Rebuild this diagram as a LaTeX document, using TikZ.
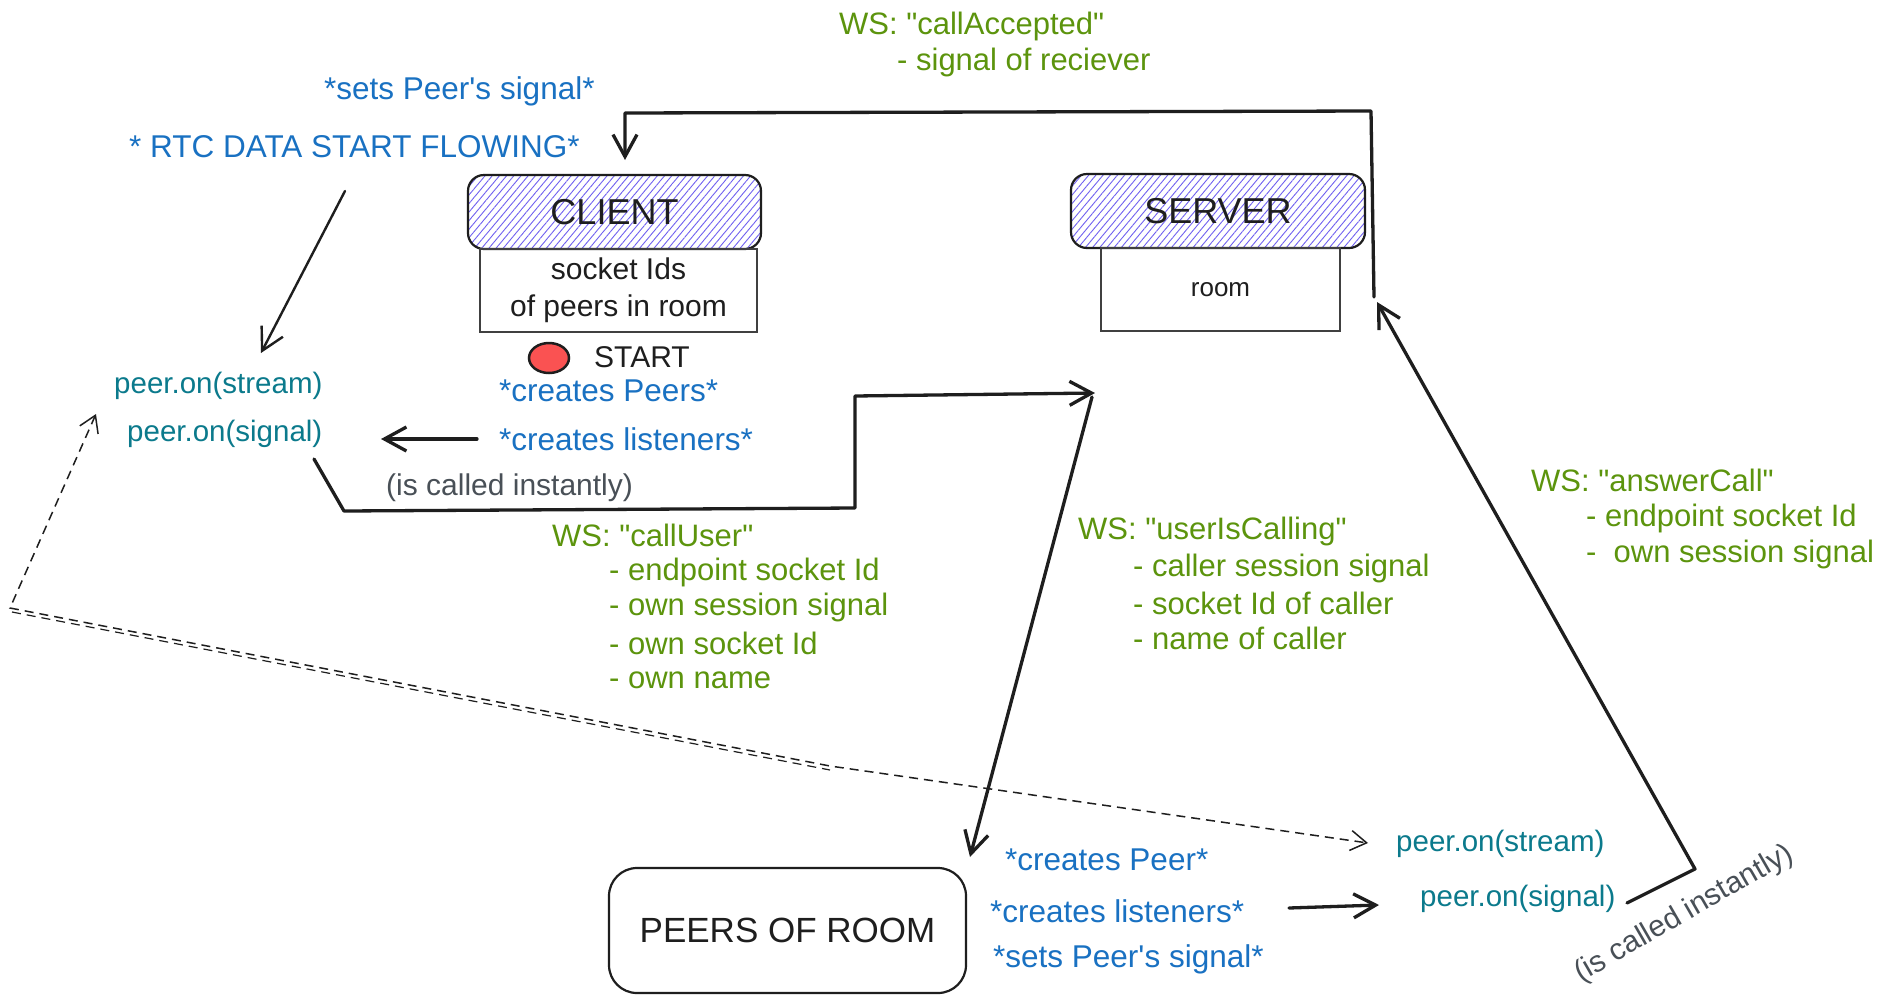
\documentclass[tikz,border=0pt]{standalone}
\usepackage{fontspec}
% plain family: no TeX quote mapping, so " and ' stay straight
\newfontfamily\handfont{Liberation Sans}
\usetikzlibrary{arrows.meta,patterns.meta,shapes.geometric}

\definecolor{blueT}{HTML}{1971C2}
\definecolor{tealT}{HTML}{0B7A8C}
\definecolor{greenT}{HTML}{5C940D}
\definecolor{grayT}{HTML}{495057}
\definecolor{hatchC}{HTML}{7061F0}
\definecolor{inkC}{HTML}{1E1E1E}
\definecolor{dotC}{HTML}{FA5252}

\tikzset{
  lbl/.style={anchor=west, inner sep=0pt},
  bluetxt/.style={lbl, text=blueT, font=\handfont\fontsize{31.5}{36}\selectfont},
  tealtxt/.style={lbl, text=tealT, font=\handfont\fontsize{29.5}{34}\selectfont},
  greentxt/.style={lbl, text=greenT, font=\handfont\fontsize{31}{36}\selectfont},
  graytxt/.style={text=grayT, font=\handfont\fontsize{30}{36}\selectfont, inner sep=0pt},
  titlebox/.style={draw=inkC, line width=2.2pt, rounded corners=16pt,
    pattern={Lines[angle=50,distance=5.5pt,line width=0.9pt]}, pattern color=hatchC,
    font=\handfont\fontsize{36}{40}\selectfont, text=inkC, inner sep=0pt},
  databox/.style={draw=inkC!85, line width=1.6pt, inner sep=0pt, text=inkC, align=center},
  flow/.style={draw=inkC, line width=3.3pt, line cap=round, line join=round, -{Straight Barb[length=22pt,width=24pt]}},
  thinflow/.style={draw=inkC, line width=2.4pt, line cap=round, -{Straight Barb[length=22pt,width=24pt]}},
  dashflow/.style={draw=inkC, line width=1.5pt, dash pattern=on 9pt off 6pt,
    {Straight Barb[length=16pt,width=20pt]}-{Straight Barb[length=16pt,width=20pt]}},
  dashtrace/.style={draw=inkC, line width=1.2pt, dash pattern=on 9pt off 6pt},
}

\begin{document}
\begin{tikzpicture}[x=1pt,y=-1pt]
  \fill[white] (0,0) rectangle (1880,1002);
  \useasboundingbox (0,0) rectangle (1880,1002);

  % ---------- client side ----------
  \node[titlebox, minimum width=293pt, minimum height=74pt] (client) at (614.5,212) {CLIENT};
  \node[databox, minimum width=277pt, minimum height=83pt, font=\handfont\fontsize{30}{37}\selectfont]
    (clientdata) at (618.5,290.5) {socket Ids\\of peers in room};

  \node[ellipse, draw=inkC, line width=2.5pt, fill=dotC, minimum width=40pt, minimum height=30pt,
    inner sep=0pt] (startdot) at (549,358) {};
  \node[lbl, text=inkC, font=\handfont\fontsize{30}{36}\selectfont] (start) at (594,357) {START};

  \node[bluetxt] (createsPeers) at (499,391) {*creates Peers*};
  \node[bluetxt] (createsLst) at (499,439) {*creates listeners*};

  \node[tealtxt] (streamA) at (114,386) {peer.on(stream)};
  \node[tealtxt] (signalA) at (127,434) {peer.on(signal)};

  \node[graytxt, anchor=west] (instantA) at (386,488) {(is called instantly)};

  \node[bluetxt] (setsSignalA) at (324,91) {*sets Peer's signal*};
  \node[bluetxt] (rtcFlow) at (129,147) {* RTC DATA START FLOWING*};

  % ---------- server side ----------
  \node[titlebox, minimum width=294pt, minimum height=74pt] (server) at (1218,211) {SERVER};
  \node[databox, minimum width=239pt, minimum height=83pt, font=\handfont\fontsize{26}{30}\selectfont]
    (serverdata) at (1220.5,289.5) {room};

  % ---------- websocket messages ----------
  \node[greentxt] (acc0) at (839,26) {WS: "callAccepted"};
  \node[greentxt] (acc1) at (897,62) {- signal of reciever};

  \node[greentxt] (cu0) at (552,535) {WS: "callUser"};
  \node[greentxt] (cu1) at (609,572) {- endpoint socket Id};
  \node[greentxt] (cu2) at (609,607) {- own session signal};
  \node[greentxt] (cu3) at (609,643) {- own socket Id};
  \node[greentxt] (cu4) at (609,680) {- own name};

  \node[greentxt] (uc0) at (1078,531) {WS: "userIsCalling"};
  \node[greentxt] (uc1) at (1133,568) {- caller session signal};
  \node[greentxt] (uc2) at (1133,603) {- socket Id of caller};
  \node[greentxt] (uc3) at (1133,638) {- name of caller};

  \node[greentxt] (ac0) at (1531,480) {WS: "answerCall"};
  \node[greentxt] (ac1) at (1586,518) {- endpoint socket Id};
  \node[greentxt] (ac2) at (1586,554) {-\ \ own session signal};

  % ---------- peers of the room ----------
  \node[draw=inkC, line width=2.2pt, rounded corners=28pt, minimum width=357pt, minimum height=125pt,
    inner sep=0pt, font=\handfont\fontsize{35}{40}\selectfont, text=inkC] (peers) at (787.5,930.5) {PEERS OF ROOM};

  \node[bluetxt] (createsPeer) at (1005,860) {*creates Peer*};
  \node[bluetxt] (createsLstB) at (990,911) {*creates listeners*};
  \node[bluetxt] (setsSignalB) at (993,959) {*sets Peer's signal*};

  \node[tealtxt] (streamB) at (1396,844) {peer.on(stream)};
  \node[tealtxt] (signalB) at (1420,899) {peer.on(signal)};

  \node[graytxt, rotate=30] (instantB) at (1684,914) {(is called instantly)};

  % ---------- connector end points and bends ----------
  \coordinate (rtcOut) at (345,191);
  \coordinate (streamAIn) at (261,353);
  \coordinate (lstOut) at (477,439);
  \coordinate (signalAIn) at (381,439);
  \coordinate (sigAOut) at (314,459);
  \coordinate (bendA1) at (344,511);
  \coordinate (bendA2) at (855,508);
  \coordinate (bendA3) at (855,396);
  \coordinate (serverIn) at (1095,393);
  \coordinate (serverOut) at (1092,397);
  \coordinate (peersIn) at (970,857);
  \coordinate (lstBOut) at (1289,908);
  \coordinate (signalBIn) at (1379,905);
  \coordinate (sigBOut) at (1627,903);
  \coordinate (bendB1) at (1695,869);
  \coordinate (roomIn) at (1377,302);
  \coordinate (roomOut) at (1374,297);
  \coordinate (bendC1) at (1371,111);
  \coordinate (bendC2) at (625,113);
  \coordinate (clientIn) at (625,160);
  \coordinate (streamATip) at (96,414);
  \coordinate (dashC1) at (10,608);
  \coordinate (dashC2) at (830,766);
  \coordinate (streamBTip) at (1368,843);

  % ---------- connectors ----------
  \draw[thinflow] (rtcOut) -- (streamAIn);
  \draw[flow] (lstOut) -- (signalAIn);
  \draw[flow] (sigAOut) -- (bendA1) -- (bendA2) -- (bendA3) -- (serverIn);
  \draw[flow] (serverOut) -- (peersIn);
  \draw[flow] (lstBOut) -- (signalBIn);
  \draw[flow] (sigBOut) -- (bendB1) -- (roomIn);
  \draw[flow] (roomOut) -- (bendC1) -- (bendC2) -- (clientIn);

  \draw[dashflow] (streamATip) -- (dashC1) -- (dashC2) -- (streamBTip);
  \draw[dashtrace] ([shift={(2,4)}]dashC1) -- ([shift={(0,4)}]dashC2);
\end{tikzpicture}
\end{document}
